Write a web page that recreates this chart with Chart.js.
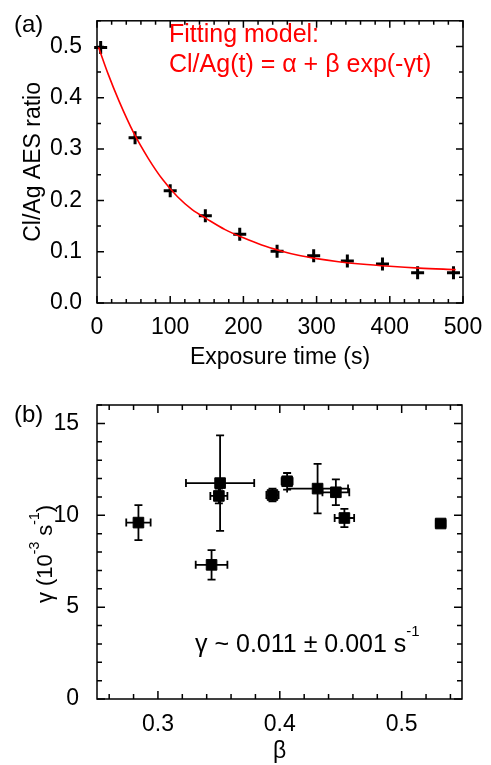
<!DOCTYPE html>
<html lang="en">
<head>
<meta charset="UTF-8">
<title>Cl/Ag AES ratio and fit parameters</title>
<style>
  body { margin: 0; background: #fff; }
  #wrap { position: relative; width: 491px; height: 765px; }
  #chartA { position: absolute; left: 0; top: 0; }
  #chartB { position: absolute; left: 0; top: 380px; }
</style>
</head>
<body>
<div id="wrap">
  <canvas id="chartA" width="491" height="380"></canvas>
  <canvas id="chartB" width="491" height="385"></canvas>
</div>
<script src="https://cdn.jsdelivr.net/npm/chart.js"></script>
<script>
// panel (a): measured points
const exposureTime = [5, 52, 100, 148, 195, 246, 296, 342, 390, 438, 487];
const clAgRatio = [0.498, 0.322, 0.219, 0.170, 0.134, 0.101, 0.092, 0.082, 0.076, 0.059, 0.059];
// panel (a): fitted curve
const fitTime = [2, 15, 30, 50, 70, 90, 110, 130, 150, 175, 200, 225, 250, 275, 300, 330, 360, 400, 440, 490];
const fitRatio = [0.499, 0.447, 0.394, 0.332, 0.282, 0.240, 0.207, 0.182, 0.164, 0.143, 0.127, 0.113, 0.102, 0.093, 0.0865, 0.0805, 0.076, 0.0715, 0.068, 0.065];
const xTicksA = [0, 100, 200, 300, 400, 500];
const yTicksA = [0.0, 0.1, 0.2, 0.3, 0.4, 0.5];

// panel (b): beta, gamma with error bars
const beta = [0.284, 0.351, 0.350, 0.344, 0.394, 0.406, 0.431, 0.446, 0.453, 0.532];
const gamma = [9.6, 11.75, 11.05, 7.3, 11.1, 11.85, 11.45, 11.25, 9.85, 9.55];
const betaErr = [0.010, 0.028, 0.007, 0.013, 0.005, 0.0045, 0.025, 0.011, 0.008, 0.004];
const gammaErr = [0.95, 2.6, 0.4, 0.8, 0.35, 0.45, 1.35, 0.7, 0.5, 0.15];
const xTicksB = [0.3, 0.4, 0.5];
const yTicksB = [0, 5, 10, 15];

const FONT = "'Liberation Sans', Arial, Helvetica, sans-serif";
Chart.defaults.font.family = FONT;
Chart.defaults.color = '#000';

function isMajor(v, list) {
  return list.some(m => Math.abs(m - v) < 1e-6);
}

// frame round the plot area and inward ticks on all four sides
function frameTicks(major, minor) {
  return {
    id: 'frameTicks',
    afterDraw(chart) {
      const { ctx, chartArea: a, scales: { x, y } } = chart;
      ctx.save();
      ctx.strokeStyle = '#000';
      ctx.lineWidth = 1.5;
      ctx.beginPath();
      x.ticks.forEach(t => {
        const p = x.getPixelForValue(t.value);
        const len = t.label ? major : minor;
        ctx.moveTo(p, a.bottom); ctx.lineTo(p, a.bottom - len);
        ctx.moveTo(p, a.top); ctx.lineTo(p, a.top + len);
      });
      y.ticks.forEach(t => {
        const p = y.getPixelForValue(t.value);
        const len = t.label ? major : minor;
        ctx.moveTo(a.left, p); ctx.lineTo(a.left + len, p);
        ctx.moveTo(a.right, p); ctx.lineTo(a.right - len, p);
      });
      ctx.stroke();
      ctx.strokeRect(a.left, a.top, a.right - a.left, a.bottom - a.top);
      ctx.restore();
    }
  };
}

// draws text pieces, some raised as superscripts
function drawPieces(ctx, pieces, x, y, size, supSize, raise, color) {
  let cx = x;
  pieces.forEach(([txt, sup]) => {
    ctx.font = (sup ? supSize : size) + 'px ' + FONT;
    ctx.fillStyle = color;
    ctx.fillText(txt, cx, sup ? y - raise : y);
    cx += ctx.measureText(txt).width;
  });
}
function piecesWidth(ctx, pieces, size, supSize) {
  let w = 0;
  pieces.forEach(([txt, sup]) => {
    ctx.font = (sup ? supSize : size) + 'px ' + FONT;
    w += ctx.measureText(txt).width;
  });
  return w;
}

const textA = {
  id: 'textA',
  afterDraw(chart) {
    const ctx = chart.ctx;
    ctx.save();
    ctx.textBaseline = 'alphabetic';
    ctx.textAlign = 'left';
    drawPieces(ctx, [['(a)', false]], 14, 32, 24, 14, 0, '#000');
    drawPieces(ctx, [['Fitting model:', false]], 169, 42, 25, 14, 0, '#ff0000');
    drawPieces(ctx, [['Cl/Ag(t) = \u03b1 + \u03b2 exp(-\u03b3t)', false]], 169, 72, 25, 14, 0, '#ff0000');
    ctx.restore();
  }
};

const errorBars = {
  id: 'errorBars',
  beforeDatasetsDraw(chart) {
    const { ctx, scales: { x, y } } = chart;
    const cap = 4;
    ctx.save();
    ctx.strokeStyle = '#000';
    ctx.lineWidth = 1.8;
    ctx.beginPath();
    beta.forEach((b, i) => {
      const px = x.getPixelForValue(b);
      const py = y.getPixelForValue(gamma[i]);
      const x0 = x.getPixelForValue(b - betaErr[i]);
      const x1 = x.getPixelForValue(b + betaErr[i]);
      const y0 = y.getPixelForValue(gamma[i] - gammaErr[i]);
      const y1 = y.getPixelForValue(gamma[i] + gammaErr[i]);
      ctx.moveTo(x0, py); ctx.lineTo(x1, py);
      ctx.moveTo(x0, py - cap); ctx.lineTo(x0, py + cap);
      ctx.moveTo(x1, py - cap); ctx.lineTo(x1, py + cap);
      ctx.moveTo(px, y0); ctx.lineTo(px, y1);
      ctx.moveTo(px - cap, y0); ctx.lineTo(px + cap, y0);
      ctx.moveTo(px - cap, y1); ctx.lineTo(px + cap, y1);
    });
    ctx.stroke();
    ctx.restore();
  }
};

const textB = {
  id: 'textB',
  afterDraw(chart) {
    const ctx = chart.ctx;
    ctx.save();
    ctx.textBaseline = 'alphabetic';
    ctx.textAlign = 'left';
    drawPieces(ctx, [['(b)', false]], 14, 42, 24, 14, 0, '#000');
    drawPieces(ctx, [['\u03b3 ~ 0.011 \u00b1 0.001 s', false], ['-1', true]], 195, 272, 25, 15, 16, '#000');
    // rotated y title with superscripts
    const title = [['\u03b3 (10', false], ['-3', true], [' s', false], ['-1', true], [')', false]];
    const w = piecesWidth(ctx, title, 22, 14);
    const a = chart.chartArea;
    ctx.translate(52, (a.top + a.bottom) / 2 + 2);
    ctx.rotate(-Math.PI / 2);
    drawPieces(ctx, title, -w / 2, 0, 22, 14, 13, '#000');
    ctx.restore();
  }
};

new Chart(document.getElementById('chartA'), {
  type: 'scatter',
  data: {
    datasets: [
      {
        label: 'fit',
        data: fitTime.map((t, i) => ({ x: t, y: fitRatio[i] })),
        showLine: true,
        borderColor: '#ff0000',
        borderWidth: 1.6,
        pointRadius: 0,
        cubicInterpolationMode: 'monotone',
        clip: false
      },
      {
        label: 'Cl/Ag',
        data: exposureTime.map((t, i) => ({ x: t, y: clAgRatio[i] })),
        pointStyle: 'cross',
        pointRadius: 6.5,
        borderWidth: 3,
        borderColor: '#000',
        backgroundColor: '#000',
        clip: false
      }
    ]
  },
  options: {
    responsive: false,
    animation: false,
    layout: { padding: { left: 0, right: 28, top: 9, bottom: 0 } },
    plugins: { legend: { display: false }, tooltip: { enabled: false } },
    scales: {
      x: {
        type: 'linear', min: 0, max: 500,
        grid: { display: false }, border: { display: false },
        ticks: {
          stepSize: 20, autoSkip: false, maxRotation: 0, includeBounds: false, padding: 3,
          font: { size: 23 },
          callback: v => isMajor(v, xTicksA) ? String(Math.round(v)) : ''
        },
        title: { display: true, text: 'Exposure time (s)', font: { size: 23 }, padding: { top: 0, bottom: 9 } },
        afterFit: s => { s.height = 77; }
      },
      y: {
        type: 'linear', min: 0, max: 0.55,
        grid: { display: false }, border: { display: false },
        ticks: {
          stepSize: 0.05, autoSkip: false, includeBounds: false, padding: 7,
          font: { size: 23 },
          callback: v => isMajor(v, yTicksA) ? v.toFixed(1) : ''
        },
        title: { display: true, text: 'Cl/Ag AES ratio', font: { size: 23 }, padding: { top: 20, bottom: 0 } },
        afterFit: s => { s.width = 97; }
      }
    }
  },
  plugins: [frameTicks(7, 4), textA]
});

new Chart(document.getElementById('chartB'), {
  type: 'scatter',
  data: {
    datasets: [{
      label: 'gamma',
      data: beta.map((b, i) => ({ x: b, y: gamma[i] })),
      pointStyle: 'rect',
      pointRadius: 7.5,
      borderWidth: 1,
      borderColor: '#000',
      backgroundColor: '#000',
      clip: false
    }]
  },
  options: {
    responsive: false,
    animation: false,
    layout: { padding: { left: 0, right: 29, top: 25, bottom: 0 } },
    plugins: { legend: { display: false }, tooltip: { enabled: false } },
    scales: {
      x: {
        type: 'linear', min: 0.25, max: 0.5495,
        grid: { display: false }, border: { display: false },
        ticks: {
          stepSize: 0.02, autoSkip: false, maxRotation: 0, includeBounds: false, padding: 4,
          font: { size: 23 },
          callback: v => isMajor(v, xTicksB) ? v.toFixed(1) : ''
        },
        title: { display: true, text: '\u03b2', font: { size: 23 }, padding: { top: 0, bottom: 0 } },
        afterFit: s => { s.height = 66; }
      },
      y: {
        type: 'linear', min: 0, max: 16,
        grid: { display: false }, border: { display: false },
        ticks: {
          stepSize: 1, autoSkip: false, includeBounds: false, padding: 10,
          font: { size: 23 },
          callback: v => isMajor(v, yTicksB) ? String(Math.round(v)) : ''
        },
        afterFit: s => { s.width = 97; }
      }
    }
  },
  plugins: [errorBars, frameTicks(8, 5), textB]
});
</script>
</body>
</html>
